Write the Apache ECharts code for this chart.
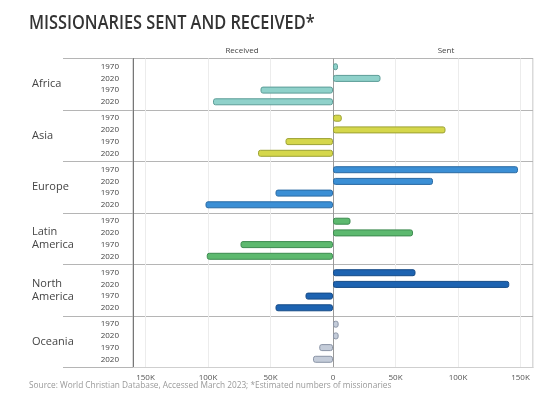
<!DOCTYPE html>
<html>
<head>
<meta charset="utf-8">
<script src="https://cdn.jsdelivr.net/npm/echarts@6/dist/echarts.min.js"></script>
<style>
html,body{margin:0;padding:0;background:#fff;}
#chart{width:540px;height:397px;}
</style>
</head>
<body>
<div id="chart"></div>
<script>
// ---- data ----
const regions = ['Africa', 'Asia', 'Europe', 'Latin\nAmerica', 'North\nAmerica', 'Oceania'];
const rowYears = ['1970', '2020', '1970', '2020'];
const sent1970 = [4000, 7000, 148000, 14000, 66000, 4500];
const sent2020 = [38000, 90000, 80000, 64000, 141000, 4500];
const received1970 = [58000, 38000, 46000, 74000, 22000, 11000];
const received2020 = [96000, 60000, 102000, 101000, 46000, 16000];
const xTicks = [-150000, -100000, -50000, 0, 50000, 100000, 150000];

// ---- styles ----
const fills = ['#8fd1ca', '#d5d74b', '#3b8fd5', '#5db96f', '#1d63b1', '#c4ccd9'];
const borders = ['#5c9d97', '#9ca233', '#2a6aa3', '#3d8b50', '#164b87', '#8a94a6'];
const FONT = '"Open Sans", "Noto Sans", sans-serif';

function barSeries(name, values, negative) {
  return {
    type: 'bar',
    name: name,
    barWidth: 7,
    barGap: '67%',
    data: values.map((v, i) => ({
      value: negative ? -v : v,
      itemStyle: { color: fills[i], borderColor: borders[i], borderWidth: 1, borderRadius: 2 }
    }))
  };
}

const yearLabelData = [];
regions.forEach((r, g) => rowYears.forEach((y, s) => yearLabelData.push([g, s])));

const nTicks = 9;
const splitColors = [];
for (let i = 0; i < nTicks; i++) splitColors.push(i === 4 ? '#9a9a9a' : '#ececec');

const chart = echarts.init(document.getElementById('chart'), null, { renderer: 'canvas' });
chart.setOption({
  animation: false,
  textStyle: { fontFamily: FONT },
  grid: { left: 133, right: 7, top: 58.5, bottom: 29.5, show: true, borderColor: '#b5b5b5', borderWidth: 1 },
  xAxis: {
    type: 'value',
    min: -160000,
    max: 160000,
    axisLine: { show: true, lineStyle: { color: '#cfcfcf' } },
    axisTick: { show: false },
    splitLine: { show: true, lineStyle: { color: splitColors, width: 1 } },
    axisLabel: {
      showMinLabel: false,
      showMaxLabel: false,
      margin: 6,
      color: '#555',
      fontSize: 8,
      fontFamily: FONT,
      formatter: v => (xTicks.indexOf(v) < 0 ? '' : (v === 0 ? '0' : Math.abs(v) / 1000 + 'K'))
    }
  },
  yAxis: {
    type: 'category',
    inverse: true,
    data: regions,
    axisLine: { show: true, onZero: false, lineStyle: { color: '#777' } },
    axisTick: { show: true, length: 70, lineStyle: { color: '#b5b5b5' } },
    splitLine: { show: true, lineStyle: { color: '#b5b5b5' } },
    axisLabel: { align: 'left', margin: 101, color: '#444', fontSize: 11, lineHeight: 13, fontFamily: FONT }
  },
  series: [
    barSeries('Sent 1970', sent1970, false),
    barSeries('Sent 2020', sent2020, false),
    barSeries('Received 1970', received1970, true),
    barSeries('Received 2020', received2020, true),
    {
      type: 'custom',
      data: yearLabelData,
      encode: { y: 0 },
      silent: true,
      renderItem: function (params, api) {
        const g = api.value(0), s = api.value(1);
        const c = api.coord([0, g]);
        return {
          type: 'text',
          x: params.coordSys.x - 14,
          y: c[1] + (s - 1.5) * 11.69,
          style: { text: rowYears[s], fill: '#444', font: '8px ' + FONT, textAlign: 'right', textVerticalAlign: 'middle' }
        };
      }
    }
  ],
  graphic: [
    { type: 'text', x: 29, y: 23.5, scaleX: 0.86, style: { text: 'MISSIONARIES SENT AND RECEIVED*', fill: '#333', font: '600 19px ' + FONT, textVerticalAlign: 'middle' } },
    { type: 'text', x: 242, y: 51, style: { text: 'Received', fill: '#444', font: '8px ' + FONT, textAlign: 'center', textVerticalAlign: 'middle' } },
    { type: 'text', x: 446, y: 51, style: { text: 'Sent', fill: '#444', font: '8px ' + FONT, textAlign: 'center', textVerticalAlign: 'middle' } },
    { type: 'text', x: 29, y: 386, style: { text: 'Source: World Christian Database, Accessed March 2023; *Estimated numbers of missionaries', fill: '#999', font: '8.3px ' + FONT, textVerticalAlign: 'middle' } }
  ]
});
</script>
</body>
</html>
